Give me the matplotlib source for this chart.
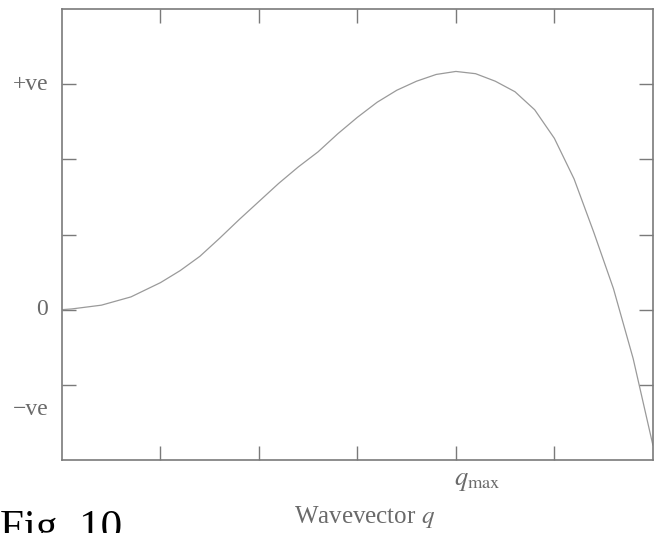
import matplotlib.pyplot as plt

plt.rcParams["font.family"] = ["Liberation Serif", "DejaVu Serif"]
plt.rcParams["mathtext.fontset"] = "stix"

# curve (wavevector in tick units, frequency in tick units)
q_vals = [0.0, 0.1, 0.4, 0.7, 1.0, 1.2, 1.4, 1.6, 1.8, 2.0, 2.2, 2.4, 2.6,
          2.8, 3.0, 3.2, 3.4, 3.6, 3.8, 4.0, 4.2, 4.4, 4.6, 4.8, 5.0, 5.2,
          5.4, 5.6, 5.8, 6.0]
w_vals = [0.0, 0.01, 0.06, 0.17, 0.36, 0.52, 0.71, 0.95, 1.2, 1.44, 1.68, 1.9,
          2.1, 2.34, 2.56, 2.76, 2.92, 3.04, 3.13, 3.17, 3.14, 3.04, 2.9, 2.66,
          2.28, 1.74, 1.03, 0.28, -0.65, -1.8]

x_ticks = [1, 2, 3, 4, 5]
y_ticks = [-1, 0, 1, 2, 3]
y_labels = [("+ve", 3), ("0", 0), ("\u2212ve", -1.33)]
q_max = 4

axis_col = "#7a7a7a"
line_col = "#9a9a9a"
text_col = "#6a6a6a"

fig = plt.figure(figsize=(6.55, 5.33), dpi=100)
ax = fig.add_axes([0.0947, 0.137, 0.902, 0.846])
ax.plot(q_vals, w_vals, color=line_col, lw=0.9)

ax.set_xlim(0, 6)
ax.set_ylim(-2, 4)
ax.set_xticks(x_ticks)
ax.set_yticks(y_ticks)
ax.tick_params(direction="in", length=10, width=1.0, color=axis_col,
               top=True, right=True, labelbottom=False, labelleft=False)
for s in ax.spines.values():
    s.set_color(axis_col)
    s.set_linewidth(1.2)

for txt, yv in y_labels:
    ax.text(-0.14, yv, txt, ha="right", va="center", fontsize=17,
            color=text_col)

ax.text(q_max - 0.02, -2.29, r"$q_{\rm max}$", ha="left", va="center",
        fontsize=19, color=text_col)
fig.text(0.557, 0.03, r"Wavevector $q$", ha="center", va="center",
         fontsize=18, color=text_col)
fig.text(0.0, -0.011, "Fig. 10", ha="left", va="baseline",
         fontsize=31, color="black")

fig.savefig("out.png", dpi=100)
